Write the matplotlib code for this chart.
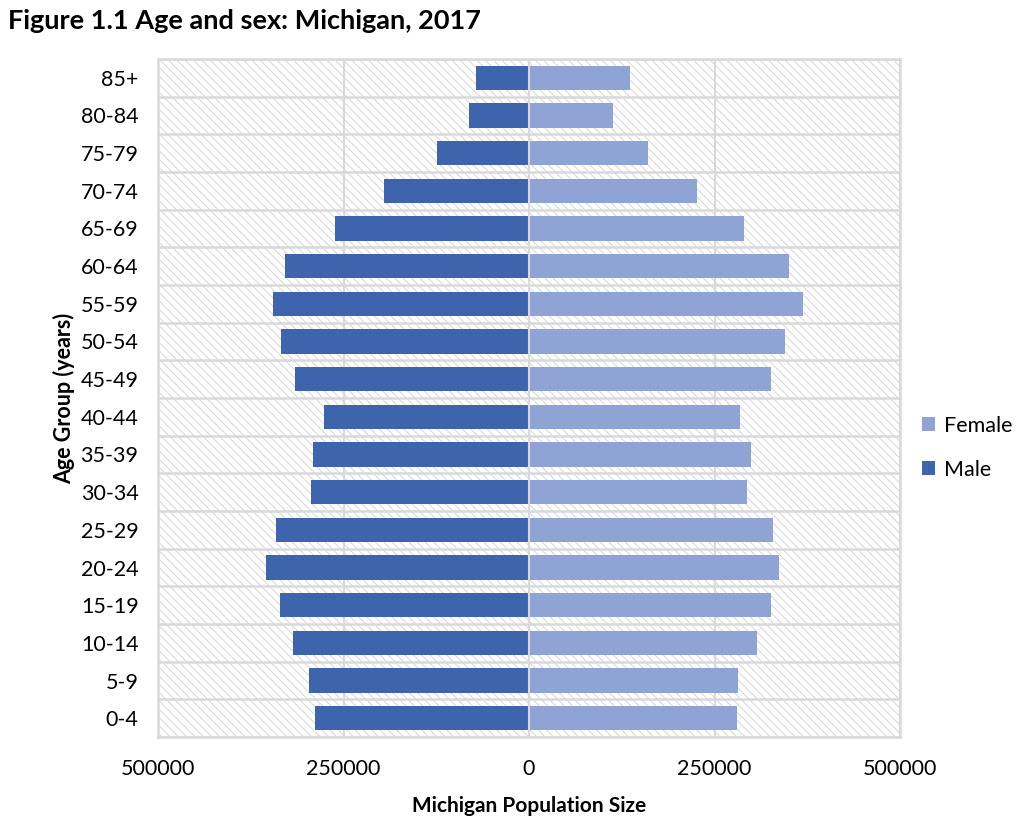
import matplotlib
matplotlib.use("Agg")
import matplotlib.pyplot as plt
from matplotlib.patches import Rectangle
import numpy as np

age_groups = ["0-4", "5-9", "10-14", "15-19", "20-24", "25-29", "30-34", "35-39",
              "40-44", "45-49", "50-54", "55-59", "60-64", "65-69", "70-74",
              "75-79", "80-84", "85+"]
male = [289000, 297000, 318500, 336000, 354800, 341400, 294300, 291600,
        276900, 315800, 334700, 345400, 329300, 262100, 194900, 123600, 80600, 71200]
female = [280900, 282200, 307800, 326600, 337300, 329300, 294300, 299700,
          284900, 326600, 345400, 369600, 350800, 290300, 225800, 160000, 112900, 135700]
x_ticks = [-500000, -250000, 0, 250000, 500000]
x_tick_labels = ["500000", "250000", "0", "250000", "500000"]

male_color = "#3d64ad"
female_color = "#8fa3d4"
grid_color = "#d9d9d9"

plt.rcParams["font.family"] = ["Lato", "DejaVu Sans"]
plt.rcParams["hatch.linewidth"] = 0.6
plt.rcParams["hatch.color"] = "#cfcfcf"

fig = plt.figure(figsize=(10.28, 8.4), dpi=100)
ax = fig.add_axes([0.1537, 0.1226, 0.8755 - 0.1537, 0.9298 - 0.1226])

n = len(age_groups)
y = np.arange(n)

# hatched background
bg = Rectangle((0, 0), 1, 1, transform=ax.transAxes, facecolor="white",
               hatch="\\\\\\\\", edgecolor="#cfcfcf", linewidth=0, zorder=0)
ax.add_patch(bg)

ax.barh(y, [-m for m in male], height=0.64, color=male_color, zorder=3, label="Male")
ax.barh(y, female, height=0.64, color=female_color, zorder=3, label="Female")

ax.set_xlim(-500000, 500000)
ax.set_ylim(-0.5, n - 0.5)

# grid lines
for b in np.arange(-0.5, n, 1.0):
    ax.axhline(b, color=grid_color, linewidth=1.8, zorder=2)
for xv in x_ticks:
    ax.axvline(xv, color=grid_color, linewidth=1.5, zorder=2 if xv != 0 else 4)

ax.set_xticks(x_ticks)
ax.set_xticklabels(x_tick_labels)
ax.set_yticks(y)
ax.set_yticklabels(age_groups)
ax.tick_params(axis="both", length=0, labelsize=15.5, colors="black")
ax.tick_params(axis="x", pad=16)
ax.tick_params(axis="y", pad=14)
for s in ax.spines.values():
    s.set_color(grid_color)
    s.set_linewidth(1.8)

ax.set_xlabel("Michigan Population Size", fontsize=15, fontweight="bold", labelpad=12)
ax.set_ylabel("Age Group (years)", fontsize=15.5, fontweight="bold", labelpad=4)

fig.text(0.008, 0.975, "Figure 1.1 Age and sex: Michigan, 2017", fontsize=19.5,
         fontweight="bold", va="center", ha="left")

handles, labels = ax.get_legend_handles_labels()
leg = fig.legend(handles[::-1], labels[::-1], loc="center left",
                 bbox_to_anchor=(0.897, 0.467), frameon=False, fontsize=15.5,
                 handlelength=0.6, handleheight=0.6, labelspacing=1.1,
                 handletextpad=0.4, borderaxespad=0, borderpad=0)

fig.savefig("out.png", dpi=100)
